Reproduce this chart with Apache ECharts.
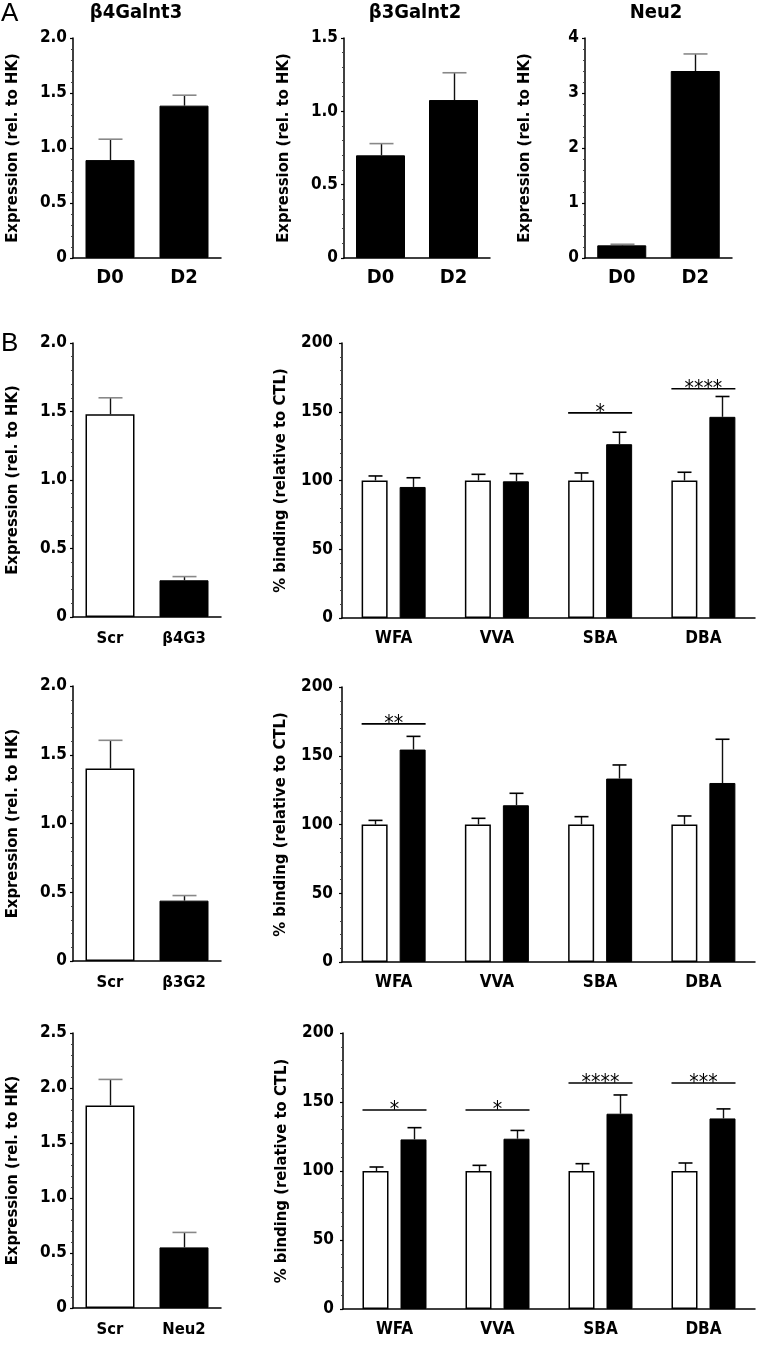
<!DOCTYPE html>
<html>
<head>
<meta charset="utf-8">
<script src="https://cdn.jsdelivr.net/npm/echarts@6/dist/echarts.min.js"></script>
<style>
html,body{margin:0;padding:0;background:#fff;}
#c{width:757px;height:1360px;}
</style>
</head>
<body>
<div id="c"></div>
<script>
// ---------- data ----------
const aCats = ['D0', 'D2'];
const a1Vals = [0.89, 1.385], a1Err = [1.08, 1.48];
const a2Vals = [0.70, 1.077], a2Err = [0.78, 1.263];
const a3Vals = [0.23, 3.40],  a3Err = [0.25, 3.71];
const aTitles = ['β4Galnt3', 'β3Galnt2', 'Neu2'];

const b1Cats = ['Scr', 'β4G3'], b1Vals = [1.48, 0.268], b1Err = [1.60, 0.295];
const b2Cats = ['Scr', 'β3G2'], b2Vals = [1.40, 0.439], b2Err = [1.605, 0.476];
const b3Cats = ['Scr', 'Neu2'], b3Vals = [1.842, 0.551], b3Err = [2.078, 0.687];

const lectins = ['WFA', 'VVA', 'SBA', 'DBA'];
const r1Ctl = [100, 100, 100, 100], r1CtlErr = [103.3, 104.5, 105.5, 106];
const r1Kd = [95.3, 99.4, 126.4, 146.3], r1KdErr = [102, 105, 135.1, 161.1];
const r1SigPos = [[2, 149.2], [3, 166.7]], r1SigTxt = ['*', '****'];
const r2Ctl = [100, 100, 100, 100], r2CtlErr = [103, 104.5, 105.7, 106.2];
const r2Kd = [154.5, 114, 133.4, 130.2], r2KdErr = [164.1, 122.7, 143.3, 162];
const r2SigPos = [[0, 173.2]], r2SigTxt = ['**'];
const r3Ctl = [100, 100, 100, 100], r3CtlErr = [102.9, 104.1, 105.3, 105.8];
const r3Kd = [122.9, 123.4, 141.5, 138.1], r3KdErr = [131.4, 129.4, 155.1, 145];
const r3SigPos = [[0, 144.2], [1, 144.2], [2, 163.8], [3, 163.8]], r3SigTxt = ['*', '*', '****', '***'];

const exprName = 'Expression (rel. to HK)';
const bindName = '% binding (relative to CTL)';

// ---------- styling ----------
const FONT = '"DejaVu Sans Condensed", "Liberation Sans Narrow", "Liberation Sans", sans-serif';
const PLAIN = '"Liberation Sans", Arial, sans-serif';
const BW_R = 26, GAP_R = 12; // right panels bar width & gap (px)
const BW_L = 49;

const grids = [
  {left: 73, top: 38, width: 148, height: 220},   // A1
  {left: 344, top: 38, width: 146, height: 220},  // A2
  {left: 585, top: 38, width: 147, height: 220},  // A3
  {left: 73, top: 343, width: 148, height: 274},  // B1L
  {left: 342, top: 343, width: 413, height: 275}, // B1R
  {left: 73, top: 686, width: 148, height: 275},  // B2L
  {left: 342, top: 687, width: 413, height: 275}, // B2R
  {left: 73, top: 1033, width: 148, height: 275}, // B3L
  {left: 343, top: 1033, width: 412, height: 276} // B3R
].map(g => Object.assign({containLabel: false, outerBoundsMode: 'none'}, g));

function fmtDec(v) { return v === 0 ? '0' : v.toFixed(1); }
function fmtInt(v) { return String(Math.round(v)); }

function yAx(gi, max, interval, fmt, name, nameGap, margin) {
  return {
    type: 'value', gridIndex: gi, min: 0, max: max, interval: interval,
    name: name, nameLocation: 'middle', nameRotate: 90, nameGap: nameGap,
    nameTextStyle: {fontFamily: FONT, fontWeight: 'bold', fontSize: 16.5, color: '#000'},
    axisLine: {show: true, lineStyle: {color: '#000', width: 1.5}},
    axisTick: {show: true, inside: false, length: 3, lineStyle: {color: '#000', width: 1.2}},
    minorTick: {show: true, splitNumber: 5, length: 2, lineStyle: {color: '#444', width: 1}},
    splitLine: {show: false},
    axisLabel: {formatter: fmt, margin: margin, fontFamily: FONT, fontWeight: 'bold', fontSize: 17, color: '#000'}
  };
}
function xAx(gi, cats, size, margin) {
  return {
    type: 'category', gridIndex: gi, data: cats,
    axisLine: {show: true, lineStyle: {color: '#000', width: 1.5}},
    axisTick: {show: false},
    axisLabel: {margin: margin, fontFamily: FONT, fontWeight: 'bold', fontSize: size, color: '#000', interval: 0}
  };
}

const xAxes = [
  xAx(0, aCats, 20, 10), xAx(1, aCats, 20, 10), xAx(2, aCats, 20, 10),
  xAx(3, b1Cats, 16.5, 13), xAx(4, lectins, 17, 12),
  xAx(5, b2Cats, 16.5, 13), xAx(6, lectins, 17, 12),
  xAx(7, b3Cats, 16.5, 13), xAx(8, lectins, 17, 12)
];
const yAxes = [
  yAx(0, 2, 0.5, fmtDec, exprName, 52, 6),
  yAx(1, 1.5, 0.5, fmtDec, exprName, 52, 6),
  yAx(2, 4, 1, fmtInt, exprName, 52, 6),
  yAx(3, 2, 0.5, fmtDec, exprName, 52, 6),
  yAx(4, 200, 50, fmtInt, bindName, 53, 9),
  yAx(5, 2, 0.5, fmtDec, exprName, 52, 6),
  yAx(6, 200, 50, fmtInt, bindName, 53, 9),
  yAx(7, 2.5, 0.5, fmtDec, exprName, 52, 6),
  yAx(8, 200, 50, fmtInt, bindName, 53, 9)
];

const WHITE = {color: '#fff', borderColor: '#000', borderWidth: 1.5};
const BLACK = {color: '#000', borderColor: '#000', borderWidth: 1};

function leftBars(gi, vals, firstWhite) {
  return {
    type: 'bar', xAxisIndex: gi, yAxisIndex: gi, barWidth: BW_L, silent: true,
    data: vals.map((v, i) => ({value: v, itemStyle: (firstWhite && i === 0) ? WHITE : BLACK}))
  };
}
function rightBars(gi, vals, white) {
  return {
    type: 'bar', xAxisIndex: gi, yAxisIndex: gi, barWidth: BW_R, barGap: (GAP_R / BW_R * 100) + '%',
    silent: true, itemStyle: white ? WHITE : BLACK, data: vals.slice()
  };
}
function errBars(gi, vals, errs, offset, capW, capColor) {
  return {
    type: 'custom', xAxisIndex: gi, yAxisIndex: gi, silent: true, z: 5,
    data: vals.map((v, i) => [i, v, errs[i]]),
    renderItem: function (params, api) {
      const p1 = api.coord([api.value(0), api.value(1)]);
      const p2 = api.coord([api.value(0), api.value(2)]);
      const cx = Math.round(p1[0] + offset) + 0.5;
      return {
        type: 'group', children: [
          {type: 'line', shape: {x1: cx, y1: p1[1], x2: cx, y2: p2[1]}, style: {stroke: '#111', lineWidth: 1.4}},
          {type: 'line', shape: {x1: cx - capW / 2, y1: p2[1], x2: cx + capW / 2, y2: p2[1]}, style: {stroke: capColor, lineWidth: 1.6}}
        ]
      };
    }
  };
}
function sigSeries(gi, pos, txt) {
  const half = BW_R + GAP_R / 2;
  return {
    type: 'custom', xAxisIndex: gi, yAxisIndex: gi, silent: true, z: 6,
    data: pos.map(p => [p[0], p[1]]),
    renderItem: function (params, api) {
      const c = api.coord([api.value(0), api.value(1)]);
      return {
        type: 'group', children: [
          {type: 'line', shape: {x1: c[0] - half, y1: c[1], x2: c[0] + half, y2: c[1]}, style: {stroke: '#000', lineWidth: 1.6}},
          {type: 'text', x: c[0], y: c[1] + 1, style: {text: txt[params.dataIndex], fill: '#000', font: '21px ' + FONT, align: 'center', verticalAlign: 'middle', textAlign: 'center', textVerticalAlign: 'middle'}}
        ]
      };
    }
  };
}

const off = (BW_R + GAP_R) / 2;
const series = [
  leftBars(0, a1Vals, false), errBars(0, a1Vals, a1Err, 0, 24, '#888'),
  leftBars(1, a2Vals, false), errBars(1, a2Vals, a2Err, 0, 24, '#888'),
  leftBars(2, a3Vals, false), errBars(2, a3Vals, a3Err, 0, 24, '#888'),
  leftBars(3, b1Vals, true), errBars(3, b1Vals, b1Err, 0, 24, '#888'),
  leftBars(5, b2Vals, true), errBars(5, b2Vals, b2Err, 0, 24, '#888'),
  leftBars(7, b3Vals, true), errBars(7, b3Vals, b3Err, 0, 24, '#888'),

  rightBars(4, r1Ctl, true), rightBars(4, r1Kd, false),
  errBars(4, r1Ctl, r1CtlErr, -off, 14, '#000'), errBars(4, r1Kd, r1KdErr, off, 14, '#000'),
  sigSeries(4, r1SigPos, r1SigTxt),

  rightBars(6, r2Ctl, true), rightBars(6, r2Kd, false),
  errBars(6, r2Ctl, r2CtlErr, -off, 14, '#000'), errBars(6, r2Kd, r2KdErr, off, 14, '#000'),
  sigSeries(6, r2SigPos, r2SigTxt),

  rightBars(8, r3Ctl, true), rightBars(8, r3Kd, false),
  errBars(8, r3Ctl, r3CtlErr, -off, 14, '#000'), errBars(8, r3Kd, r3KdErr, off, 14, '#000'),
  sigSeries(8, r3SigPos, r3SigTxt)
];

function txt(t, x, y, font, align) {
  return {type: 'text', x: x, y: y, silent: true,
    style: {text: t, font: font, fill: '#000', align: align || 'center', textAlign: align || 'center', verticalAlign: 'top', textVerticalAlign: 'top'}};
}
const graphics = [
  txt('A', 1, 1, '26px ' + PLAIN, 'left'),
  txt('B', 1, 331, '26px ' + PLAIN, 'left'),
  txt(aTitles[0], 136, 3, 'bold 20px ' + FONT),
  txt(aTitles[1], 415, 3, 'bold 20px ' + FONT),
  txt(aTitles[2], 656, 3, 'bold 20px ' + FONT)
];

const chart = echarts.init(document.getElementById('c'), null, {renderer: 'canvas'});
chart.setOption({
  animation: false,
  backgroundColor: '#fff',
  grid: grids,
  xAxis: xAxes,
  yAxis: yAxes,
  series: series,
  graphic: graphics
});
</script>
</body>
</html>
